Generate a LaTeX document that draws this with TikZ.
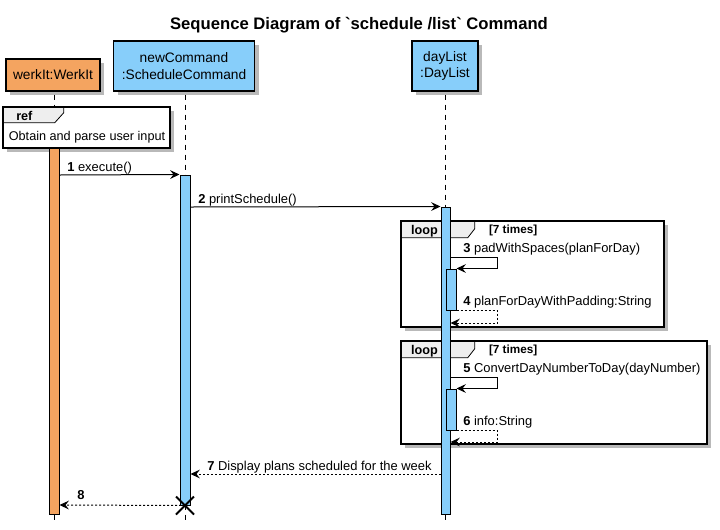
\documentclass[tikz,border=0pt]{standalone}
\usepackage{fontspec}
\setmainfont{Liberation Sans}
\usetikzlibrary{arrows.meta,fit,calc}

\definecolor{werkorange}{RGB}{244,164,96}
\definecolor{cmdblue}{RGB}{135,206,250}
\definecolor{hdrgray}{RGB}{238,238,238}
\definecolor{shadowgray}{RGB}{185,185,185}

\tikzset{
  shadowfill/.style={fill=shadowgray},
  partbox/.style={draw,line width=1.1pt,align=center,inner sep=0pt,font=\fontsize{10.3}{12.5}\selectfont},
  lifeline/.style={line width=0.75pt,dash pattern=on 3.75pt off 3.75pt},
  actbar/.style={draw,line width=0.75pt,inner sep=0pt},
  msg/.style={line width=0.75pt,-{Stealth[length=7pt,width=6.5pt,inset=2.5pt]}},
  ret/.style={msg,dash pattern=on 1.5pt off 1.5pt},
  msglabel/.style={anchor=base west,inner sep=0pt,font=\fontsize{9.7}{11}\selectfont},
  framebox/.style={fill=white,inner sep=0pt},
  frameline/.style={line width=1.5pt},
  framehead/.style={fill=hdrgray,draw,line width=0.6pt},
  headtext/.style={inner sep=0pt,font=\fontsize{9.5}{11}\selectfont\bfseries},
}

\begin{document}
\begin{tikzpicture}[x=0.75pt,y=0.75pt,yscale=-1,xscale=1]
\useasboundingbox (0,0) rectangle (720,529);

% Title
\node[font=\fontsize{12.5}{15}\selectfont\bfseries] (title) at (359,25) {Sequence Diagram of \textasciigrave schedule /list\textasciigrave{} Command};

% Shadows
\fill[shadowfill] (10,63) rectangle (104,95);
\fill[shadowfill] (117.5,45) rectangle (258.5,95);
\fill[shadowfill] (416,45) rectangle (482,95);

% Participants
\node[partbox,fill=werkorange,minimum width=70.5pt,minimum height=24pt] (werkIt) at (53,75) {werkIt:WerkIt};
\node[partbox,fill=cmdblue,minimum width=105.75pt,minimum height=37.5pt] (newCommand) at (184,66) {newCommand\\:ScheduleCommand};
\node[partbox,fill=cmdblue,minimum width=49.5pt,minimum height=37.5pt] (dayList) at (445,66) {dayList\\:DayList};

% Lifelines
\draw[lifeline] (werkIt.south) ++(1,3) -- (54,520);
\draw[lifeline] (newCommand.south) ++(1,3) -- (185,520);
\draw[lifeline] (dayList.south) ++(0.5,3) -- (445.5,520);

% Ref frame
\fill[shadowfill] (7,111) rectangle (174,152);
\node[framebox,fit={(3,107)(170,148)}] (refF) {};
\draw[framehead] (refF.north west) -- ++(61,0) -- ++(0,6) -- ++(-9,10) -- ++(-52,0) -- cycle;
\draw[frameline] (refF.north west) rectangle (refF.south east);
\node[headtext,anchor=west] (refT) at (16,116) {ref};
\node[inner sep=0pt,font=\fontsize{9.5}{11}\selectfont] (refText) at (87,137) {Obtain and parse user input};

% Loop frames
\fill[shadowfill] (405,225) rectangle (668,331);
\fill[shadowfill] (405,345) rectangle (711,448);
\node[framebox,fit={(401,221)(664,327)}] (loopA) {};
\node[framebox,fit={(401,341)(707,444)}] (loopB) {};
\foreach \f in {loopA,loopB}{
  \draw[framehead] (\f.north west) -- ++(74,0) -- ++(0,8) -- ++(-7,9) -- ++(-67,0) -- cycle;
  \draw[frameline] (\f.north west) rectangle (\f.south east);
  \node[headtext,anchor=west] at ($(\f.north west)+(10,10)$) {loop};
  \node[headtext,anchor=west,font=\fontsize{8.8}{10}\selectfont\bfseries] at ($(\f.north west)+(88,10)$) {[7 times]};
}

% Activations
\node[actbar,fill=werkorange,fit={(49,148)(59,514)}] (actW) {};
\node[actbar,fill=cmdblue,fit={(180,175)(190,505)}] (actC) {};
\node[actbar,fill=cmdblue,fit={(441,207)(450,514)}] (actD) {};
\node[actbar,fill=cmdblue,fit={(446,269)(456,310)}] (actD1) {};
\node[actbar,fill=cmdblue,fit={(446,389)(456,430)}] (actD2) {};

% Messages
\draw[msg] (actW.east |- 0,175) -- (actC.north west);
\node[msglabel] (m1) at (67,171) {\textbf{1} execute()};
\draw[msg] (actC.east |- 0,207) -- (actD.north west);
\node[msglabel] (m2) at (198,203) {\textbf{2} printSchedule()};
\draw[msg] (actD.east |- 0,257) -- ++(47,0) |- (actD1.north east);
\node[msglabel] (m3) at (463,252) {\textbf{3} padWithSpaces(planForDay)};
\draw[ret] (actD1.south east) -- ++(41,0) |- (actD.east |- 0,323);
\node[msglabel] (m4) at (463,305) {\textbf{4} planForDayWithPadding:String};
\draw[msg] (actD.east |- 0,377) -- ++(47,0) |- (actD2.north east);
\node[msglabel] (m5) at (463,372) {\textbf{5} ConvertDayNumberToDay(dayNumber)};
\draw[ret] (actD2.south east) -- ++(41,0) |- (actD.east |- 0,442);
\node[msglabel] (m6) at (463,425) {\textbf{6} info:String};
\draw[ret] (actD.west |- 0,474) -- (actC.east |- 0,474);
\node[msglabel] (m7) at (207,470) {\textbf{7} Display plans scheduled for the week};
\draw[ret] (actC.south) -- (actW.east |- 0,505);
\node[msglabel] (m8) at (77,499) {\textbf{8}};

% Destroy
\draw[line width=1.5pt] (actC.south) +(-9,-9) -- +(9,9) +(-9,9) -- +(9,-9);

\end{tikzpicture}
\end{document}
